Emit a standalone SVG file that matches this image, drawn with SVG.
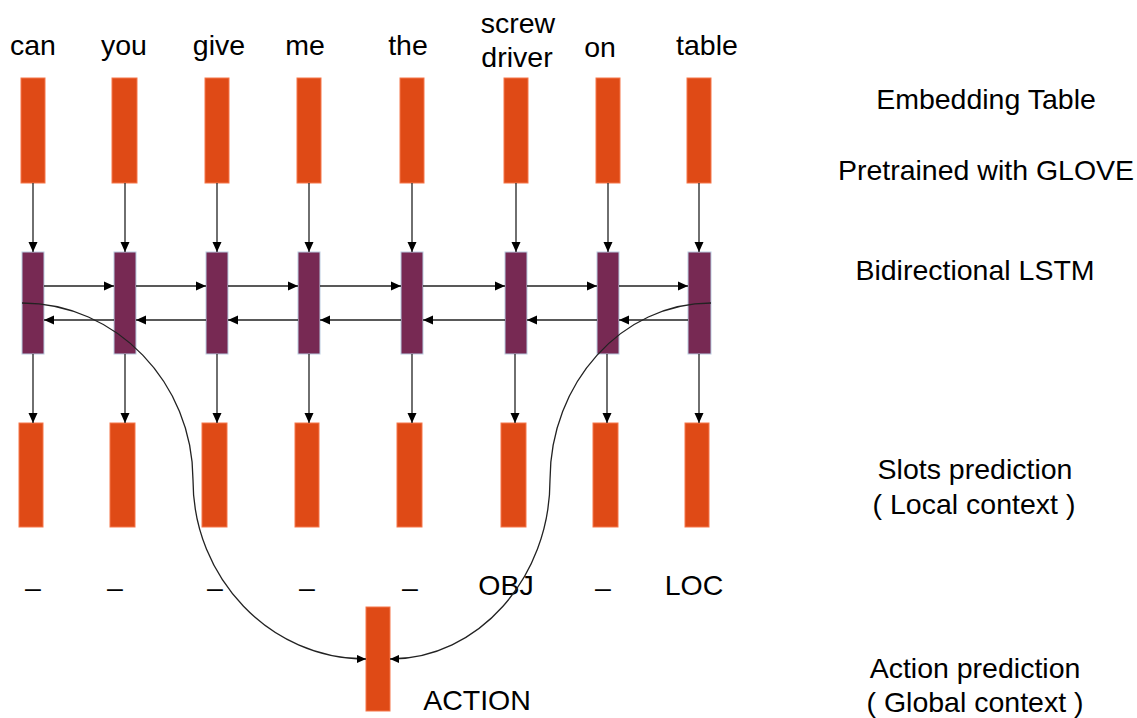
<svg xmlns="http://www.w3.org/2000/svg" width="1137" height="718" viewBox="0 0 1137 718">
<defs>
<style>
.emb{fill:#DF4A16;stroke:#F5774A;stroke-width:1}
.lstm{fill:#772953;stroke:#B9CCE0;stroke-width:1}
.t{font-family:"Liberation Sans",Arial,sans-serif;font-size:28.5px;fill:#000;text-anchor:middle}
.c{fill:none;stroke:#222;stroke-width:1.3;marker-end:url(#ah)}
.cv{fill:none;stroke:#222;stroke-width:1.3;marker-end:url(#ah2)}
</style>
<marker id="ah" viewBox="0 0 10 10" refX="10" refY="5" markerWidth="10" markerHeight="10" markerUnits="userSpaceOnUse" orient="auto"><path d="M0,0.5 L10,5 L0,9.5 z" fill="#000"/></marker>
<marker id="ah2" viewBox="0 0 10 10" refX="10" refY="5" markerWidth="9" markerHeight="9" markerUnits="userSpaceOnUse" orient="auto"><path d="M0,0.5 L10,5 L0,9.5 z" fill="#000"/></marker>
</defs>
<rect width="1137" height="718" fill="#fff"/>

<g id="words">
<text class="t" x="33" y="55">can</text>
<text class="t" x="124" y="55">you</text>
<text class="t" x="219" y="55">give</text>
<text class="t" x="305" y="55">me</text>
<text class="t" x="408" y="55">the</text>
<text class="t" x="518" y="33">screw</text>
<text class="t" x="517" y="67">driver</text>
<text class="t" x="600" y="57">on</text>
<text class="t" x="707" y="55">table</text>
</g>

<g id="embedding">
<rect class="emb" x="21" y="78" width="24" height="105"/>
<rect class="emb" x="112" y="78" width="25" height="105"/>
<rect class="emb" x="205" y="78" width="24" height="105"/>
<rect class="emb" x="297" y="78" width="24" height="105"/>
<rect class="emb" x="400" y="78" width="24" height="105"/>
<rect class="emb" x="504" y="78" width="24" height="105"/>
<rect class="emb" x="596" y="78" width="24" height="105"/>
<rect class="emb" x="687" y="78" width="24" height="105"/>
</g>

<g id="lstm">
<rect class="lstm" x="22" y="252" width="22" height="102"/>
<rect class="lstm" x="114" y="252" width="22" height="102"/>
<rect class="lstm" x="206" y="252" width="22" height="102"/>
<rect class="lstm" x="298" y="252" width="22" height="102"/>
<rect class="lstm" x="401" y="252" width="22" height="102"/>
<rect class="lstm" x="505" y="252" width="22" height="102"/>
<rect class="lstm" x="597" y="252" width="22" height="102"/>
<rect class="lstm" x="688" y="252" width="23" height="102"/>
</g>

<g id="slots">
<rect class="emb" x="19" y="423" width="24" height="104"/>
<rect class="emb" x="110" y="423" width="25" height="104"/>
<rect class="emb" x="202" y="423" width="25" height="104"/>
<rect class="emb" x="295" y="423" width="24" height="104"/>
<rect class="emb" x="397" y="423" width="25" height="104"/>
<rect class="emb" x="501" y="423" width="25" height="104"/>
<rect class="emb" x="593" y="423" width="25" height="104"/>
<rect class="emb" x="685" y="423" width="24" height="104"/>
</g>

<g id="slot-labels">
<text class="t" x="33" y="597">–</text>
<text class="t" x="115" y="597">–</text>
<text class="t" x="215" y="597">–</text>
<text class="t" x="307" y="597">–</text>
<text class="t" x="410" y="597">–</text>
<text class="t" x="506" y="595">OBJ</text>
<text class="t" x="603" y="597">–</text>
<text class="t" x="694" y="595">LOC</text>
</g>

<g id="action">
<rect class="emb" x="366" y="607" width="24" height="104"/>
<text class="t" x="477" y="710">ACTION</text>
</g>

<g id="side-labels">
<text class="t" x="986" y="109">Embedding Table</text>
<text class="t" x="986" y="180">Pretrained with GLOVE</text>
<text class="t" x="975" y="280">Bidirectional LSTM</text>
<text class="t" x="975" y="479">Slots prediction</text>
<text class="t" x="974" y="514">( Local context )</text>
<text class="t" x="975" y="678">Action prediction</text>
<text class="t" x="975" y="712">( Global context )</text>
</g>

<g id="connectors">
<path class="c" d="M33,183 V252"/>
<path class="c" d="M125,183 V252"/>
<path class="c" d="M217,183 V252"/>
<path class="c" d="M309,183 V252"/>
<path class="c" d="M412,183 V252"/>
<path class="c" d="M516,183 V252"/>
<path class="c" d="M608,183 V252"/>
<path class="c" d="M699,183 V252"/>

<path class="c" d="M33,354 V423"/>
<path class="c" d="M125,354 V423"/>
<path class="c" d="M217,354 V423"/>
<path class="c" d="M309,354 V423"/>
<path class="c" d="M412,354 V423"/>
<path class="c" d="M515,354 V423"/>
<path class="c" d="M607,354 V423"/>
<path class="c" d="M699,354 V423"/>

<path class="c" d="M44,286 H114"/>
<path class="c" d="M136,286 H206"/>
<path class="c" d="M228,286 H298"/>
<path class="c" d="M320,286 H401"/>
<path class="c" d="M423,286 H505"/>
<path class="c" d="M527,286 H597"/>
<path class="c" d="M619,286 H688"/>

<path class="c" d="M114,320 H44"/>
<path class="c" d="M206,320 H136"/>
<path class="c" d="M298,320 H228"/>
<path class="c" d="M401,320 H320"/>
<path class="c" d="M505,320 H423"/>
<path class="c" d="M597,320 H527"/>
<path class="c" d="M688,320 H619"/>

<path class="cv" d="M22,303 C116,303 193,383 193,480 C193,578 270,659 366,659"/>
<path class="cv" d="M711,303 C622,303 550,383 550,480 C550,578 478,659 390,659"/>
</g>
</svg>
